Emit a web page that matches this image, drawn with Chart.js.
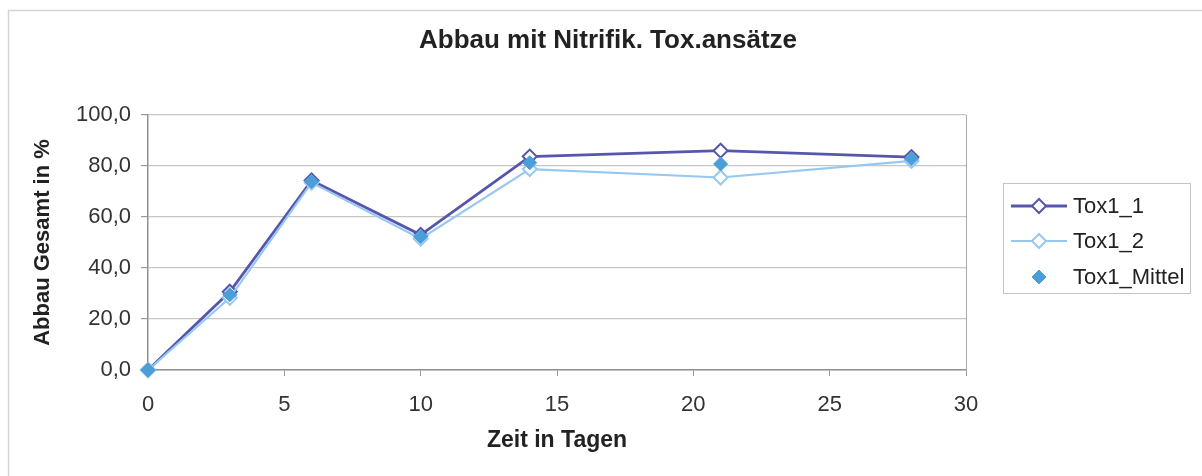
<!DOCTYPE html>
<html>
<head>
<meta charset="utf-8">
<script src="https://cdn.jsdelivr.net/npm/chart.js@4"></script>
<style>
  html, body { margin: 0; padding: 0; background: #fff; }
  #wrap { width: 1202px; height: 476px; }
</style>
</head>
<body>
<div id="wrap"><canvas id="lineChart" width="1202" height="476"></canvas></div>
<script>
// --- DATA ---
const days = [0, 3, 6, 10, 14, 21, 28];
const tox1_1 = [0, 30.7, 74.3, 53.0, 83.7, 86.0, 83.5];
const tox1_2 = [0, 28.3, 73.5, 51.5, 78.8, 75.5, 82.0];
const tox1_mittel = [0, 29.5, 73.9, 52.3, 81.3, 80.8, 82.8];
const seriesNames = ["Tox1_1", "Tox1_2", "Tox1_Mittel"];
const xTicks = [0, 5, 10, 15, 20, 25, 30];
const yTicks = [0, 20, 40, 60, 80, 100];
const chartTitle = "Abbau mit Nitrifik. Tox.ansätze";

const FONT = "'Liberation Sans', Arial, sans-serif";
const TEXT = "#333";

function toPoints(vals) {
    return days.map((d, i) => ({ x: d, y: vals[i] }));
}

// frame, title (centred on the whole chart like Excel does) and the legend box
const decoPlugin = {
    id: "deco",
    beforeDraw(chart) {
        const ctx = chart.ctx;
        ctx.save();
        ctx.fillStyle = "#fff";
        ctx.fillRect(0, 0, chart.width, chart.height);
        ctx.strokeStyle = "#d4d4d4";
        ctx.lineWidth = 1.5;
        ctx.strokeRect(8.5, 10.5, chart.width + 10, chart.height + 10);
        ctx.fillStyle = "#222";
        ctx.font = "bold 26px " + FONT;
        ctx.textAlign = "center";
        ctx.textBaseline = "middle";
        ctx.fillText(chartTitle, 608, 41);
        ctx.restore();
    },
    afterDatasetsDraw(chart) {
        const ctx = chart.ctx;
        const a = chart.chartArea;
        ctx.save();
        ctx.strokeStyle = "#a8a8a8";
        ctx.lineWidth = 1;
        ctx.beginPath();
        ctx.moveTo(Math.round(a.right) + 0.5, a.top);
        ctx.lineTo(Math.round(a.right) + 0.5, a.bottom);
        ctx.stroke();
        ctx.restore();
    },
    afterDraw(chart) {
        const ctx = chart.ctx;
        const box = { x: 1003, y: 183, w: 187, h: 110 };
        ctx.save();
        ctx.strokeStyle = "#c4c4c4";
        ctx.lineWidth = 1;
        ctx.strokeRect(box.x + 0.5, box.y + 0.5, box.w, box.h);
        ctx.font = "22px " + FONT;
        ctx.textBaseline = "middle";
        const rows = [206, 241, 277];
        chart.data.datasets.forEach((ds, i) => {
            const y = rows[i];
            if (ds.showLine !== false) {
                ctx.strokeStyle = ds.borderColor;
                ctx.lineWidth = ds.borderWidth;
                ctx.beginPath();
                ctx.moveTo(1011, y);
                ctx.lineTo(1067, y);
                ctx.stroke();
            }
            const r = ds.pointRadius;
            ctx.beginPath();
            ctx.moveTo(1039, y - r);
            ctx.lineTo(1039 + r, y);
            ctx.lineTo(1039, y + r);
            ctx.lineTo(1039 - r, y);
            ctx.closePath();
            ctx.fillStyle = ds.pointBackgroundColor;
            ctx.fill();
            ctx.strokeStyle = ds.pointBorderColor;
            ctx.lineWidth = ds.pointBorderWidth;
            ctx.stroke();
            ctx.fillStyle = "#222";
            ctx.fillText(ds.label, 1073, y + 1);
        });
        ctx.restore();
    }
};

const lineChart = new Chart(document.getElementById("lineChart").getContext("2d"), {
    type: "line",
    data: {
        datasets: [
            {
                label: seriesNames[0],
                data: toPoints(tox1_1),
                borderColor: "#5656ad",
                borderWidth: 2.8,
                pointStyle: "rectRot",
                pointRadius: 7,
                pointBackgroundColor: "#ffffff",
                pointBorderColor: "#5656ad",
                pointBorderWidth: 2,
                tension: 0,
                clip: false,
                order: 3
            },
            {
                label: seriesNames[1],
                data: toPoints(tox1_2),
                borderColor: "#96c8f2",
                borderWidth: 2.2,
                pointStyle: "rectRot",
                pointRadius: 7,
                pointBackgroundColor: "#ffffff",
                pointBorderColor: "#96c8f2",
                pointBorderWidth: 2,
                tension: 0,
                clip: false,
                order: 2
            },
            {
                label: seriesNames[2],
                data: toPoints(tox1_mittel),
                borderColor: "#4b9ed8",
                borderWidth: 1,
                showLine: false,
                pointStyle: "rectRot",
                pointRadius: 7,
                pointBackgroundColor: "#4b9ed8",
                pointBorderColor: "#4b9ed8",
                pointBorderWidth: 1,
                clip: false,
                order: 1
            }
        ]
    },
    options: {
        responsive: false,
        animation: false,
        layout: { padding: { top: 115, right: 236, bottom: 0, left: 0 } },
        plugins: {
            legend: { display: false },
            tooltip: { enabled: false },
            title: { display: false }
        },
        scales: {
            x: {
                type: "linear",
                min: 0,
                max: 30,
                afterBuildTicks: s => { s.ticks = xTicks.map(v => ({ value: v })); },
                afterFit: s => { s.height = 106; },
                ticks: {
                    color: TEXT,
                    font: { family: FONT, size: 22 },
                    padding: 16,
                    maxRotation: 0
                },
                grid: { drawOnChartArea: false, drawTicks: true, tickLength: 6, color: "#999" },
                border: { color: "#909090", width: 1.5 },
                title: {
                    display: true,
                    text: "Zeit in Tagen",
                    color: "#222",
                    font: { family: FONT, size: 23, weight: "bold", lineHeight: 1.2 },
                    padding: { top: 0, bottom: 22 }
                }
            },
            y: {
                type: "linear",
                min: 0,
                max: 100,
                afterBuildTicks: s => { s.ticks = yTicks.map(v => ({ value: v })); },
                afterFit: s => { s.width = 148; },
                ticks: {
                    color: TEXT,
                    font: { family: FONT, size: 22 },
                    padding: 10,
                    callback: v => v.toFixed(1).replace(".", ",")
                },
                grid: { color: "#c6c6c6", lineWidth: 1.2, tickLength: 7, tickColor: "#999" },
                border: { color: "#909090", width: 1.5 },
                title: {
                    display: true,
                    text: "Abbau Gesamt in %",
                    color: "#222",
                    font: { family: FONT, size: 22, weight: "bold", lineHeight: 1.2 },
                    padding: { top: 30, bottom: 0 }
                }
            }
        }
    },
    plugins: [decoPlugin]
});
</script>
</body>
</html>
